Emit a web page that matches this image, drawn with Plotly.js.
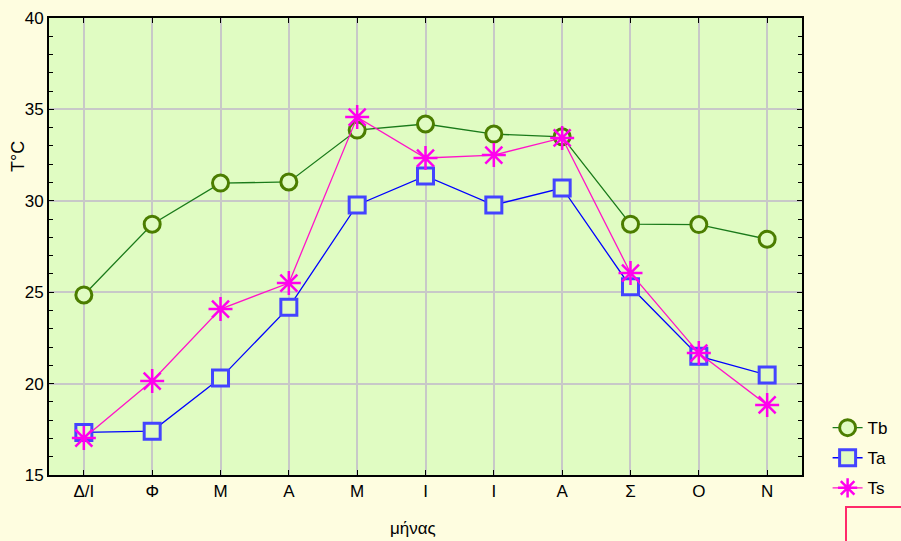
<!DOCTYPE html>
<html>
<head>
<meta charset="utf-8">
<script src="https://cdn.plot.ly/plotly-3.0.1.min.js"></script>
<style>html,body{margin:0;padding:0;background:#fefde0;}</style>
</head>
<body>
<div id="chart" style="width:901px;height:541px;"></div>
<script>
const months = ["Δ/Ι", "Φ", "Μ", "Α", "Μ", "Ι", "Ι", "Α", "Σ", "Ο", "Ν"];
const Tb = [24.85, 28.72, 30.97, 31.03, 33.87, 34.2, 33.65, 33.5, 28.72, 28.7, 27.9];
const Ta = [17.33, 17.4, 20.3, 24.17, 29.77, 31.36, 29.77, 30.7, 25.3, 21.5, 20.47];
const Ts = [17.02, 20.14, 24.08, 25.5, 34.58, 32.34, 32.5, 33.44, 26.05, 21.67, 18.83];
const xIdx = months.map((_, i) => i);

const traces = [
  {x: xIdx, y: Tb, name: "Tb", mode: "lines+markers", legendgroup: "a",
   line: {color: "#1a7a1a", width: 1.3},
   marker: {symbol: "circle", size: 16, color: "#e0fcc2", line: {color: "#4b7d00", width: 3}}},
  {x: xIdx, y: Ta, name: "Ta", mode: "lines+markers", legendgroup: "b",
   line: {color: "#0000ff", width: 1.3},
   marker: {symbol: "square", size: 16, color: "#e0fcc2", line: {color: "#4444ff", width: 3}}},
  {x: xIdx, y: Ts, name: "Ts", mode: "lines+markers", legendgroup: "c",
   line: {color: "#ff14c8", width: 1.3},
   marker: {symbol: "asterisk-open", size: 20, color: "#ff00ee", line: {color: "#ff00ee", width: 2.5}}}
];

const layout = {
  width: 901, height: 541,
  margin: {l: 49, r: 99, t: 18, b: 66, autoexpand: false},
  paper_bgcolor: "#fefde0",
  plot_bgcolor: "#e0fcc2",
  font: {family: "Liberation Sans, Arial, sans-serif", color: "#000", size: 17},
  showlegend: true,
  legend: {x: 1.034, y: 0.142, xanchor: "left", yanchor: "top", bgcolor: "rgba(0,0,0,0)",
           font: {size: 17}, traceorder: "grouped", tracegroupgap: 5, itemwidth: 30},
  xaxis: {
    range: [-0.51, 10.51], tickmode: "array", tickvals: xIdx, ticktext: months,
    showgrid: true, gridcolor: "#c8c8c8", gridwidth: 2,
    showline: true, linecolor: "#000", linewidth: 2, mirror: "ticks",
    ticks: "inside", ticklen: 5, tickcolor: "#000", tickwidth: 1,
    tickfont: {size: 17}, zeroline: false
  },
  yaxis: {
    range: [15, 40], tickmode: "linear", tick0: 15, dtick: 5,
    showgrid: true, gridcolor: "#c8c8c8", gridwidth: 2,
    showline: true, linecolor: "#000", linewidth: 2, mirror: "ticks",
    ticks: "inside", ticklen: 5, tickcolor: "#000", tickwidth: 1,
    minor: {dtick: 1, ticks: "inside", ticklen: 4, tickcolor: "#000", showgrid: false},
    tickfont: {size: 17}, zeroline: false
  },
  annotations: [
    {text: "μήνας", xref: "paper", yref: "paper", x: (413 - 49) / 753, y: (475 - 528) / 457,
     xanchor: "center", yanchor: "middle", showarrow: false, font: {size: 17}},
    {text: "T°C", xref: "paper", yref: "paper", x: (18 - 49) / 753, y: (475 - 157) / 457,
     xanchor: "center", yanchor: "middle", showarrow: false, textangle: -90, font: {size: 18}}
  ],
  shapes: [
    {type: "rect", xref: "paper", yref: "paper",
     x0: (846 - 49) / 753, x1: (910 - 49) / 753, y0: (475 - 507) / 457, y1: (475 - 560) / 457,
     line: {color: "#ff2a6a", width: 2}, fillcolor: "rgba(0,0,0,0)"}
  ]
};

Plotly.newPlot("chart", traces, layout, {displayModeBar: false, staticPlot: true});
</script>
</body>
</html>
